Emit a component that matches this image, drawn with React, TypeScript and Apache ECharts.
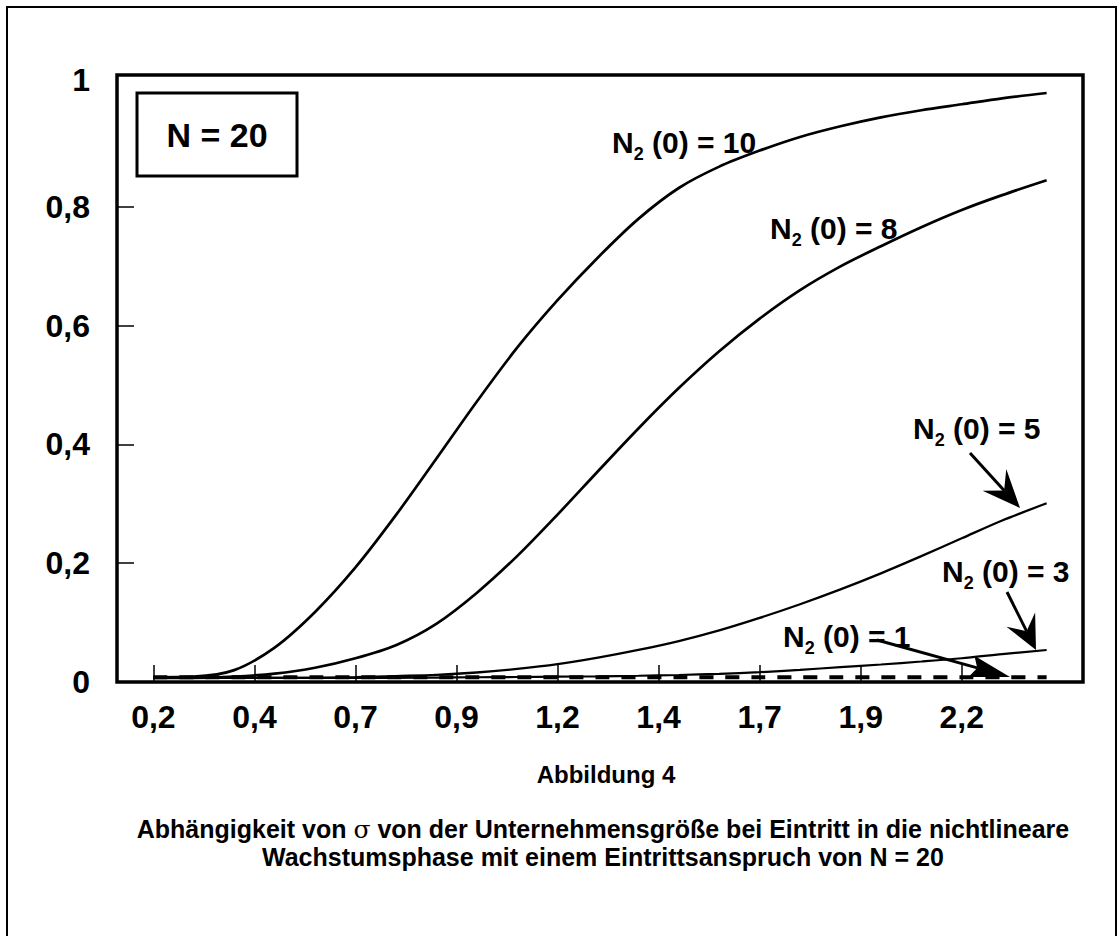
import React, { useEffect, useRef } from "react";
import * as echarts from "echarts";

// sigma values (x) and the five curves (y)
const sigma = [0.2, 0.3, 0.4, 0.5, 0.6, 0.7, 0.8, 0.9, 1.0, 1.1, 1.2, 1.3, 1.4, 1.5, 1.6, 1.7, 1.8, 1.9, 2.0, 2.1, 2.2, 2.3, 2.41];
const n10 = [0.008, 0.009, 0.02, 0.058, 0.118, 0.193, 0.281, 0.376, 0.472, 0.563, 0.643, 0.715, 0.78, 0.832, 0.868, 0.895, 0.918, 0.936, 0.951, 0.963, 0.973, 0.983, 0.992];
const n8 = [0.007, 0.007, 0.009, 0.014, 0.024, 0.04, 0.062, 0.098, 0.15, 0.212, 0.282, 0.355, 0.427, 0.495, 0.557, 0.612, 0.66, 0.7, 0.734, 0.766, 0.795, 0.82, 0.845];
const n5 = [0.007, 0.007, 0.007, 0.007, 0.007, 0.008, 0.01, 0.012, 0.016, 0.022, 0.03, 0.041, 0.054, 0.069, 0.087, 0.108, 0.131, 0.156, 0.183, 0.212, 0.242, 0.272, 0.301];
const n3 = [0.007, 0.007, 0.007, 0.007, 0.007, 0.007, 0.007, 0.0075, 0.008, 0.0084, 0.009, 0.0095, 0.0105, 0.0118, 0.0138, 0.0165, 0.0205, 0.025, 0.0295, 0.0345, 0.04, 0.047, 0.0539];
const n1 = [0.008, 0.008, 0.008, 0.008, 0.008, 0.008, 0.008, 0.008, 0.008, 0.008, 0.008, 0.008, 0.008, 0.008, 0.008, 0.008, 0.008, 0.008, 0.008, 0.008, 0.008, 0.008, 0.008];

// axis ticks and labels
const xTickValues = [0.2, 0.45, 0.7, 0.95, 1.2, 1.45, 1.7, 1.95, 2.2];
const xTickLabels = ["0,2", "0,4", "0,7", "0,9", "1,2", "1,4", "1,7", "1,9", "2,2"];
const yLabelValues = [0, 0.2, 0.4, 0.6, 0.8, 1];
const yLabelTexts = ["0", "0,2", "0,4", "0,6", "0,8", "1"];
const yTickValues = [0.2, 0.4, 0.6, 0.8];

const FONT = "'Liberation Sans', Arial, Helvetica, sans-serif";

function arrow(x1: number, y1: number, x2: number, y2: number, len: number, half: number, notch: number) {
  const dx = x2 - x1, dy = y2 - y1;
  const L = Math.hypot(dx, dy);
  const ux = dx / L, uy = dy / L;
  const px = -uy, py = ux;
  const bx = x2 - ux * len, by = y2 - uy * len;
  const nx = x2 - ux * len * notch, ny = y2 - uy * len * notch;
  return [
    { type: "line", shape: { x1, y1, x2: nx, y2: ny }, style: { stroke: "#000", lineWidth: 3 }, z: 10 },
    {
      type: "polygon",
      shape: { points: [[x2, y2], [bx + px * half, by + py * half], [nx, ny], [bx - px * half, by - py * half]] },
      style: { fill: "#000" },
      z: 10,
    },
  ];
}

function subLabel(x: number, y: number, rest: string) {
  return {
    type: "text",
    z: 10,
    style: {
      x,
      y,
      text: "{m|N}{s|2}{m| (0) = " + rest + "}",
      align: "left",
      verticalAlign: "middle",
      fill: "#000",
      rich: {
        m: { fontSize: 30, fontWeight: "bold", fontFamily: FONT, lineHeight: 42, verticalAlign: "middle", fill: "#000" },
        s: { fontSize: 18, fontWeight: "bold", fontFamily: FONT, lineHeight: 18, verticalAlign: "bottom", fill: "#000" },
      },
    },
  };
}

export default function App() {
  const ref = useRef<HTMLDivElement>(null);
  useEffect(() => {
    document.body.style.margin = "0";
    const chart = echarts.init(ref.current!, null, { renderer: "svg" });
    const mk = (ys: number[]) => sigma.map((x, i) => [x, ys[i]]);
    const lineSeries = (name: string, ys: number[], width: number, z: number, dashed = false) => ({
      name,
      type: "line",
      data: mk(ys),
      smooth: 0.3,
      symbol: "none",
      z,
      lineStyle: { color: "#000", width, type: dashed ? [14, 12] : "solid" },
    });
    const labelStyle = { fontSize: 32, fontWeight: "bold", fontFamily: FONT, color: "#000" };
    const option = {
      animation: false,
      backgroundColor: "#fff",
      grid: { left: 117, top: 75, right: 37, bottom: 254, show: true, borderColor: "#000", borderWidth: 3.5, backgroundColor: "transparent" },
      xAxis: {
        type: "value",
        min: 0.11,
        max: 2.5,
        axisLine: { show: false },
        splitLine: { show: false },
        axisTick: { show: true, inside: true, length: 17, customValues: xTickValues, lineStyle: { color: "#000", width: 1.5 } },
        axisLabel: {
          customValues: xTickValues,
          formatter: (v: number) => {
            const i = xTickValues.findIndex((t) => Math.abs(t - v) < 1e-6);
            return i >= 0 ? xTickLabels[i] : "";
          },
          ...labelStyle,
          margin: 19,
        },
      },
      yAxis: {
        type: "value",
        min: 0,
        max: 1.0223,
        axisLine: { show: false },
        splitLine: { show: false },
        axisTick: { show: true, inside: true, length: 17, customValues: yTickValues, lineStyle: { color: "#000", width: 1.5 } },
        axisLabel: {
          customValues: yLabelValues,
          formatter: (v: number) => {
            const i = yLabelValues.findIndex((t) => Math.abs(t - v) < 1e-6);
            if (i < 0) return "";
            return i === yLabelValues.length - 1 ? "{t|" + yLabelTexts[i] + "}" : yLabelTexts[i];
          },
          ...labelStyle,
          margin: 27,
          rich: { t: { ...labelStyle, padding: [0, 0, 16, 0] } },
        },
      },
      series: [
        lineSeries("N2(0)=10", n10, 2.7, 3),
        lineSeries("N2(0)=8", n8, 2.7, 3),
        lineSeries("N2(0)=5", n5, 2.3, 3),
        lineSeries("N2(0)=3", n3, 2.2, 3),
        lineSeries("N2(0)=1", n1, 4, 4, true),
      ],
      graphic: [
        { type: "rect", shape: { x: 7, y: 7, width: 1109, height: 940 }, style: { fill: "none", stroke: "#000", lineWidth: 2 }, z: 1 },
        { type: "rect", shape: { x: 137, y: 93, width: 160, height: 83 }, style: { fill: "#fff", stroke: "#000", lineWidth: 3 }, z: 10 },
        {
          type: "text",
          z: 11,
          style: { x: 217, y: 135, text: "N = 20", align: "center", verticalAlign: "middle", fontSize: 34, fontWeight: "bold", fontFamily: FONT, fill: "#000" },
        },
        subLabel(612, 142, "10"),
        subLabel(770, 228, "8"),
        subLabel(913, 428, "5"),
        subLabel(942, 571, "3"),
        subLabel(783, 636, "1"),
        ...arrow(970, 453, 1020, 508, 38, 16, 0.62),
        ...arrow(1007, 592, 1036, 650, 34, 16, 0.62),
        ...arrow(877, 640, 1010, 677, 40, 11, 0.85),
        {
          type: "text",
          z: 10,
          style: { x: 606, y: 774, text: "Abbildung 4", align: "center", verticalAlign: "middle", fontSize: 24, fontWeight: "bold", fontFamily: FONT, fill: "#000" },
        },
        {
          type: "text",
          z: 10,
          style: {
            x: 603,
            y: 829,
            text: "{b|Abhängigkeit von }{g|σ}{b| von der Unternehmensgröße bei Eintritt in die nichtlineare}",
            align: "center",
            verticalAlign: "middle",
            rich: {
              b: { fontSize: 25, fontWeight: "bold", fontFamily: FONT, fill: "#000" },
              g: { fontSize: 25, fontFamily: "'DejaVu Serif', 'Liberation Serif', serif", fill: "#000" },
            },
          },
        },
        {
          type: "text",
          z: 10,
          style: { x: 603, y: 857, text: "Wachstumsphase mit einem Eintrittsanspruch von N = 20", align: "center", verticalAlign: "middle", fontSize: 25, fontWeight: "bold", fontFamily: FONT, fill: "#000" },
        },
      ],
    };
    chart.setOption(option as any);
    return () => chart.dispose();
  }, []);
  return <div ref={ref} style={{ position: "absolute", left: 0, top: 0, width: 1120, height: 936 }} />;
}
